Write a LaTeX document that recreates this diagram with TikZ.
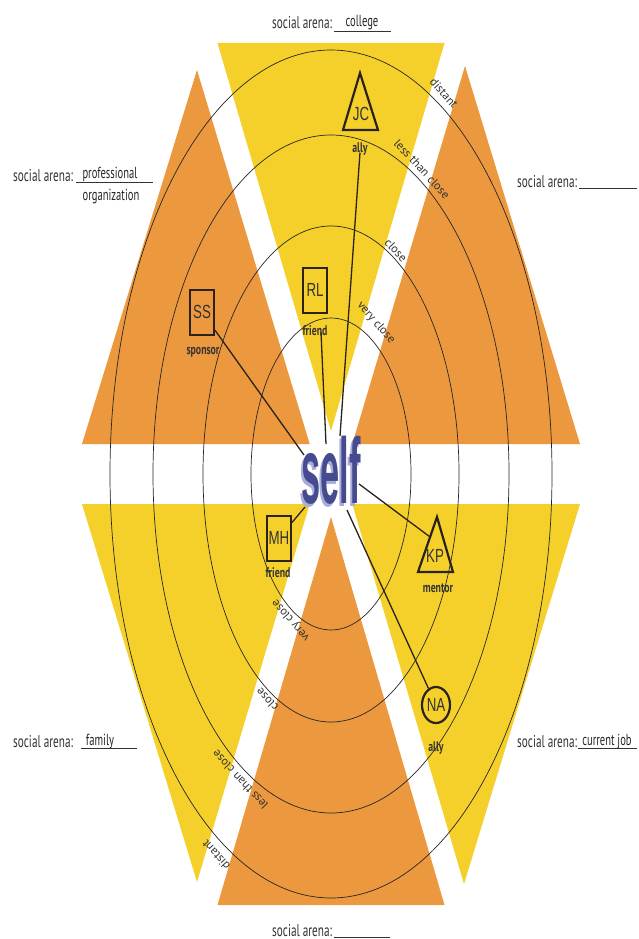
\documentclass[tikz,border=0pt]{standalone}
\usepackage{fontspec}
\setmainfont{PT Sans}
\newfontfamily\arenafont[FakeStretch=0.66]{PT Sans}
\newfontfamily\initfont[FakeStretch=0.7]{Liberation Sans}
\newfontfamily\rolefont[FakeStretch=0.7]{PT Sans}
\newfontfamily\selffont{Liberation Sans}
\usetikzlibrary{shapes.geometric}
\definecolor{wedgeyellow}{HTML}{F6D02A}
\definecolor{wedgeorange}{HTML}{EC983E}
\definecolor{selfblue}{HTML}{464A8E}
\definecolor{selfshade}{HTML}{A8ACD8}
\definecolor{inkgrey}{HTML}{333333}
\definecolor{shapeink}{HTML}{2B221A}
\begin{document}
\begin{tikzpicture}[x=1pt,y=-1pt,
  yellowwedge/.style={fill=wedgeyellow,draw=none},
  orangewedge/.style={fill=wedgeorange,draw=none},
  ring/.style={draw=black!85,line width=0.7pt},
  ringlabel/.style={font=\fontsize{12}{12}\selectfont,text=inkgrey,inner sep=0pt},
  arena/.style={font=\arenafont\fontsize{17}{17}\selectfont,text=inkgrey,inner sep=0pt,anchor=base west},
  answer/.style={font=\arenafont\fontsize{16}{16}\selectfont,text=black!85,inner sep=0pt,anchor=base},
  blank/.style={draw=inkgrey,line width=0.8pt},
  boxperson/.style={draw=shapeink,line width=2pt,minimum width=24pt,minimum height=45pt,inner sep=0pt,font=\initfont\fontsize{19}{19}\selectfont,text=black!80},
  ellperson/.style={ellipse,draw=shapeink,line width=2.2pt,minimum width=28pt,minimum height=36pt,inner sep=0pt,font=\initfont\fontsize{19}{19}\selectfont,text=black!80},
  initials/.style={inner sep=0pt,font=\initfont\fontsize{19}{19}\selectfont,text=black!80},
  triline/.style={draw=shapeink,line width=2.2pt,line join=miter},
  role/.style={font=\rolefont\bfseries\fontsize{14}{14}\selectfont,text=inkgrey,inner sep=0pt},
  connector/.style={draw=shapeink,line width=1.3pt}
]
\useasboundingbox (0,0) rectangle (638,939);
\fill[white] (0,0) rectangle (638,939);

% wedges
\path[yellowwedge] (217.5,43) -- (444.5,43) -- (331,431) -- cycle;
\path[orangewedge] (197,70) -- (309.7,444) -- (82,444) -- cycle;
\path[orangewedge] (465,66) -- (580,444) -- (352.3,444) -- cycle;
\path[yellowwedge] (82,504) -- (309.7,504) -- (197,882) -- cycle;
\path[yellowwedge] (352.3,504) -- (580,504) -- (464,884) -- cycle;
\path[orangewedge] (331,517) -- (444.5,905) -- (217.5,905) -- cycle;

% rings
\draw[ring] (331,474) ellipse [x radius=221pt, y radius=424pt];
\draw[ring] (331,474) ellipse [x radius=178pt, y radius=339pt];
\draw[ring] (331,474) ellipse [x radius=128pt, y radius=248pt];
\draw[ring] (331,474) ellipse [x radius=80pt, y radius=156pt];

% ring labels
\node[ringlabel,rotate=-48] (distA) at (444,93) {distant};
\node[ringlabel,rotate=-47] (lessA) at (422,169) {less than close};
\node[ringlabel,rotate=-47] (closeA) at (396,250) {close};
\node[ringlabel,rotate=-49] (veryA) at (376,323) {very close};
\node[ringlabel,rotate=132] (distB) at (216,855) {distant};
\node[ringlabel,rotate=133] (lessB) at (240,780) {less than close};
\node[ringlabel,rotate=133] (closeB) at (267,700) {close};
\node[ringlabel,rotate=131] (veryB) at (291,620) {very close};

% arena labels
\node[arena] (arTop) at (272,29) {social arena:};
\draw[blank] (334,31) -- (391,31);
\node[answer] (ansTop) at (362,27) {college};

\node[arena] (arUL) at (13,181) {social arena:};
\draw[blank] (76,182) -- (153,182);
\node[answer] (ansUL) at (110,178) {professional};
\node[answer] (ansUL2) at (111,200) {organization};

\node[arena] (arUR) at (517,187) {social arena:};
\draw[blank] (579,188) -- (637,188);

\node[arena] (arLL) at (13,747) {social arena:};
\draw[blank] (81,748) -- (137,748);
\node[answer] (ansLL) at (100,745) {family};

\node[arena] (arLR) at (517,747) {social arena:};
\draw[blank] (578,748) -- (637,748);
\node[answer] (ansLR) at (607,745) {current job};

\node[arena] (arBot) at (272,936) {social arena:};
\draw[blank] (334,937) -- (390,937);

% people
\node[boxperson] (ss) at (202,312) {SS};
\node[role] (ssrole) at (203,352) {sponsor};
\node[boxperson] (rl) at (315,290) {RL};
\node[role] (rlrole) at (315,331) {friend};
\node[boxperson] (mh) at (279,538) {MH};
\node[role] (mhrole) at (278,573) {friend};

\draw[triline] (360,73) -- (378,130) -- (343,130) -- cycle;
\node[initials] (jc) at (361,114) {JC};
\node[role] (jcrole) at (360,149) {ally};

\draw[triline] (437,517) -- (453,572) -- (418,572) -- cycle;
\coordinate (kpedge) at (430.1,537);
\node[initials] (kp) at (435,556) {KP};
\node[role] (kprole) at (438,588) {mentor};

\node[ellperson] (na) at (436,705) {NA};
\node[role] (narole) at (436,748) {ally};

% self
\node[inner sep=0pt,anchor=base,text=selfshade] (selfsh) at (329,506)
  {\scalebox{0.37}[1]{\selffont\bfseries\fontsize{93}{93}\selectfont self}};
\node[inner sep=0pt,anchor=base,text=selfblue] (self) at (331,503)
  {\scalebox{0.37}[1]{\selffont\bfseries\fontsize{93}{93}\selectfont self}};

\coordinate (selfss) at (304,455);
\coordinate (selfrl) at (326,444);
\coordinate (selfjc) at (340,436);
\coordinate (selfmh) at (305,507);
\coordinate (selfkp) at (359,484);
\coordinate (selfna) at (347,510);

% connectors
\draw[connector] (ss) -- (selfss);
\draw[connector] ([xshift=6pt,yshift=4pt]rlrole.south) -- (selfrl);
\draw[connector] ([yshift=3pt]jcrole.south) -- (selfjc);
\draw[connector] (mh) -- (selfmh);
\draw[connector] (selfkp) -- (kpedge);
\draw[connector] (selfna) -- (na);
\end{tikzpicture}
\end{document}
